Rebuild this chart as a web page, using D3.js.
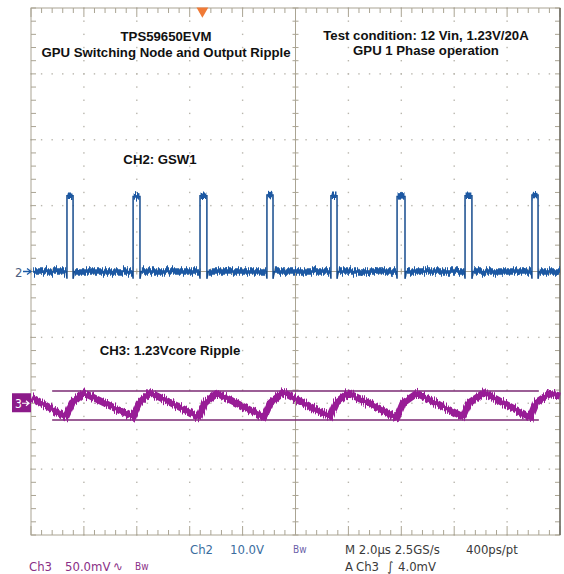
<!DOCTYPE html>
<html>
<head>
<meta charset="utf-8">
<script src="https://cdn.jsdelivr.net/npm/d3@7/dist/d3.min.js"></script>
<style>
body { margin: 0; background: #fff; }
</style>
</head>
<body>
<script>
//time base 2.0us/div, 10 divisions, 0 at screen centre
var timeDomain = [-10, 10];
var majorTimes = [-8, -6, -4, -2, 2, 4, 6, 8];
var majorDivs = [-3, -2, -1, 1, 2, 3];

//Ch2 switching node, volts (10 V/div, ground at centre)
var ch2Rise = [-8.64, -6.14, -3.61, -1.08, 1.34, 3.84, 6.41, 8.94];
var ch2Fall = [-8.41, -5.88, -3.35, -0.85, 1.57, 4.14, 6.67, 9.17];
var ch2High = [11.5, 11.4, 11.5, 11.6, 11.5, 11.4, 11.5, 11.6];
var ch2Low = 0;
var ch2Dip = -1.1;

//Ch3 output ripple, mV (50 mV/div, ground marker 2 div below centre)
var ch3Trough = [-8.68, -6.14, -3.65, -1.19, 1.30, 3.84, 6.33, 8.87];
var ch3TroughV = [-10.4, -10.6, -10.2, -10.6, -10.4, -10.8, -10.4, -10.6];
var ch3Knee = [-8.45, -5.92, -3.42, -0.96, 1.53, 4.06, 6.56, 9.09];
var ch3KneeV = [0.2, 0.0, 0.4, 0.0, 0.2, 0.0, 0.2, 0.4];
var ch3Peak = [-8.00, -5.50, -2.97, -0.47, 1.98, 4.59, 7.13, 9.62];
var ch3PeakV = [7.8, 8.0, 7.6, 8.2, 7.8, 7.6, 8.0, 7.4];
var ch3Ends = [[-9.98, 4.6], [10, 5.4]];
var ch3Cursors = [9.3, -12.7];
var cursorSpan = [-9.2, 9.2];

//annotation texts
var titleLeft = ["TPS59650EVM", "GPU Switching Node and Output Ripple"];
var titleRight = ["Test condition: 12 Vin, 1.23V/20A", "GPU 1 Phase operation"];
var ch2Label = "CH2: GSW1";
var ch3Label = "CH3: 1.23Vcore Ripple";

window.onload = drawScope();

function drawScope(){

    var width = 564,
        height = 574;

    var svg = d3.select("body")
        .append("svg")
        .attr("width", width)
        .attr("height", height);

    //screen scales: time -> x, divisions -> y
    var x = d3.scaleLinear().domain(timeDomain).range([31, 560]);
    var yDiv = d3.scaleLinear().domain([-4, 4]).range([535, 8]);
    var y2 = function(v){ return yDiv(v / 10); };
    var y3 = function(mv){ return yDiv(mv / 50 - 2); };

    //noise filter: shifts each column of a trace up/down
    var defs = svg.append("defs");
    var filt = defs.append("filter")
        .attr("id", "jag")
        .attr("filterUnits", "userSpaceOnUse")
        .attr("x", 0).attr("y", 0)
        .attr("width", width).attr("height", height);
    filt.append("feTurbulence")
        .attr("type", "fractalNoise")
        .attr("baseFrequency", "0.9 0.01")
        .attr("numOctaves", 2)
        .attr("seed", 4)
        .attr("result", "n");
    filt.append("feColorMatrix")
        .attr("in", "n")
        .attr("type", "matrix")
        .attr("values", "0 0 0 0 0.5  0 1 0 0 0  0 0 0 0 0  0 0 0 0 1")
        .attr("result", "m");
    filt.append("feDisplacementMap")
        .attr("in", "SourceGraphic")
        .attr("in2", "m")
        .attr("scale", 10)
        .attr("xChannelSelector", "R")
        .attr("yChannelSelector", "G");

    //graticule
    var grid = svg.append("g").attr("class", "grid");
    var minorT = d3.range(-10, 10.001, 0.4);
    var minorD = d3.range(-4, 4.001, 0.2);

    majorTimes.forEach(function(t){
        grid.selectAll(null)
            .data(minorD)
            .enter()
            .append("rect")
            .attr("x", x(t) - 0.7)
            .attr("y", function(d){ return yDiv(d) - 0.7; })
            .attr("width", 1.4)
            .attr("height", 1.4)
            .attr("fill", "#b9b6ad");
    });
    majorDivs.forEach(function(dv){
        grid.selectAll(null)
            .data(minorT)
            .enter()
            .append("rect")
            .attr("x", function(d){ return x(d) - 0.7; })
            .attr("y", yDiv(dv) - 0.7)
            .attr("width", 1.4)
            .attr("height", 1.4)
            .attr("fill", "#b9b6ad");
    });

    var lineCol = "#aaa493";

    //centre cross hair with ticks
    grid.append("line")
        .attr("x1", x(0)).attr("x2", x(0))
        .attr("y1", yDiv(4)).attr("y2", yDiv(-4))
        .attr("stroke", lineCol);
    grid.append("line")
        .attr("x1", x(-10)).attr("x2", x(10))
        .attr("y1", yDiv(0)).attr("y2", yDiv(0))
        .attr("stroke", lineCol);
    grid.selectAll(".vtick")
        .data(minorD)
        .enter()
        .append("line")
        .attr("class", "vtick")
        .attr("x1", x(0) - 3).attr("x2", x(0) + 3)
        .attr("y1", function(d){ return yDiv(d); })
        .attr("y2", function(d){ return yDiv(d); })
        .attr("stroke", lineCol);
    grid.selectAll(".htick")
        .data(minorT)
        .enter()
        .append("line")
        .attr("class", "htick")
        .attr("y1", yDiv(0) - 3).attr("y2", yDiv(0) + 3)
        .attr("x1", function(d){ return x(d); })
        .attr("x2", function(d){ return x(d); })
        .attr("stroke", lineCol);

    //edge ticks pointing inwards
    grid.selectAll(".ttick")
        .data(minorT)
        .enter()
        .append("line")
        .attr("class", "ttick")
        .attr("x1", function(d){ return x(d); })
        .attr("x2", function(d){ return x(d); })
        .attr("y1", yDiv(4))
        .attr("y2", function(d){ return yDiv(4) + (Math.abs(d % 2) < 0.01 ? 9 : 5); })
        .attr("stroke", lineCol);
    grid.selectAll(".btick")
        .data(minorT)
        .enter()
        .append("line")
        .attr("class", "btick")
        .attr("x1", function(d){ return x(d); })
        .attr("x2", function(d){ return x(d); })
        .attr("y1", yDiv(-4))
        .attr("y2", function(d){ return yDiv(-4) - (Math.abs(d % 2) < 0.01 ? 9 : 5); })
        .attr("stroke", lineCol);
    grid.selectAll(".ltick")
        .data(minorD)
        .enter()
        .append("line")
        .attr("class", "ltick")
        .attr("x1", x(-10)).attr("x2", x(-10) + 5)
        .attr("y1", function(d){ return yDiv(d); })
        .attr("y2", function(d){ return yDiv(d); })
        .attr("stroke", lineCol);
    grid.selectAll(".rtick")
        .data(minorD)
        .enter()
        .append("line")
        .attr("class", "rtick")
        .attr("x1", x(10)).attr("x2", x(10) - 5)
        .attr("y1", function(d){ return yDiv(d); })
        .attr("y2", function(d){ return yDiv(d); })
        .attr("stroke", lineCol);

    grid.append("rect")
        .attr("x", x(-10)).attr("y", yDiv(4))
        .attr("width", x(10) - x(-10))
        .attr("height", yDiv(-4) - yDiv(4))
        .attr("fill", "none")
        .attr("stroke", lineCol);
    grid.append("line")
        .attr("x1", x(10)).attr("x2", x(10))
        .attr("y1", yDiv(4)).attr("y2", yDiv(-4))
        .attr("stroke", "#6d6a60")
        .attr("stroke-width", 1.5);

    //trigger position marker
    svg.append("path")
        .attr("d", d3.symbol().type(d3.symbolTriangle).size(60))
        .attr("transform", "translate(" + x(-3.52) + "," + (yDiv(4) + 3) + ") rotate(180)")
        .attr("fill", "#f07a36");

    //Ch3 cursor lines
    svg.selectAll(".cursor")
        .data(ch3Cursors)
        .enter()
        .append("line")
        .attr("class", "cursor")
        .attr("x1", x(cursorSpan[0])).attr("x2", x(cursorSpan[1]))
        .attr("y1", function(d){ return y3(d); })
        .attr("y2", function(d){ return y3(d); })
        .attr("stroke", "#7b2a73")
        .attr("stroke-width", 1.6);

    //Ch2 trace: thin edges then thick noisy levels
    var ch2Pts = [[-9.92, ch2Low]];
    var ch2Segs = [];
    var lastT = -9.92;
    ch2Rise.forEach(function(r, i){
        var f = ch2Fall[i];
        ch2Pts.push([r - 0.03, ch2Low], [r, ch2Dip], [r, ch2High[i]],
            [f, ch2High[i]], [f, ch2Dip], [f + 0.05, ch2Low]);
        ch2Segs.push([[lastT, ch2Low], [r - 0.03, ch2Low]]);
        ch2Segs.push([[r + 0.02, ch2High[i]], [f - 0.02, ch2High[i]]]);
        lastT = f + 0.07;
    });
    ch2Pts.push([10, ch2Low]);
    ch2Segs.push([[lastT, ch2Low], [10, ch2Low]]);

    var line2 = d3.line()
        .x(function(d){ return x(d[0]); })
        .y(function(d){ return y2(d[1]); });

    svg.append("path")
        .datum(ch2Pts)
        .attr("d", line2)
        .attr("fill", "none")
        .attr("stroke", "#174c8e")
        .attr("stroke-width", 1.5);

    svg.append("g")
        .attr("filter", "url(#jag)")
        .selectAll("path")
        .data(ch2Segs)
        .enter()
        .append("path")
        .attr("d", line2)
        .attr("fill", "none")
        .attr("stroke", "#1a58a3")
        .attr("stroke-width", 6.5);

    //Ch3 trace
    var ch3Pts = [ch3Ends[0]];
    ch3Trough.forEach(function(t, i){
        ch3Pts.push([t, ch3TroughV[i]], [ch3Knee[i], ch3KneeV[i]], [ch3Peak[i], ch3PeakV[i]]);
    });
    ch3Pts.push(ch3Ends[1]);

    var line3 = d3.line()
        .x(function(d){ return x(d[0]); })
        .y(function(d){ return y3(d[1]); });

    svg.append("g")
        .attr("filter", "url(#jag)")
        .append("path")
        .datum(ch3Pts)
        .attr("d", line3)
        .attr("fill", "none")
        .attr("stroke", "#981c96")
        .attr("stroke-width", 7)
        .attr("stroke-linejoin", "round");

    //channel ground markers
    svg.append("text")
        .attr("x", 15).attr("y", y2(0) + 5)
        .attr("font-family", "Liberation Sans Narrow, DejaVu Sans Condensed, sans-serif")
        .attr("font-size", 13)
        .attr("fill", "#4d5f7f")
        .text("2");
    svg.append("line")
        .attr("x1", 23).attr("x2", 31)
        .attr("y1", y2(0)).attr("y2", y2(0))
        .attr("stroke", "#1b5aa6")
        .attr("stroke-width", 1.5);
    svg.append("path")
        .attr("d", "M27," + (y2(0) - 3) + "L31," + y2(0) + "L27," + (y2(0) + 3))
        .attr("fill", "none")
        .attr("stroke", "#1b5aa6")
        .attr("stroke-width", 1.3);

    svg.append("rect")
        .attr("x", 12).attr("y", y3(0) - 10)
        .attr("width", 19).attr("height", 19)
        .attr("fill", "#8c1b8a");
    svg.append("text")
        .attr("x", 15).attr("y", y3(0) + 4.5)
        .attr("font-family", "Liberation Sans Narrow, DejaVu Sans Condensed, sans-serif")
        .attr("font-size", 12)
        .attr("fill", "#fff")
        .text("3");
    svg.append("path")
        .attr("d", "M22," + y3(0) + "L29," + y3(0) + "M26," + (y3(0) - 2.5) + "L29," + y3(0) + "L26," + (y3(0) + 2.5))
        .attr("fill", "none")
        .attr("stroke", "#fff")
        .attr("stroke-width", 1.2);

    //annotations
    var ann = svg.append("g")
        .attr("font-family", "Liberation Sans, Arial, sans-serif")
        .attr("font-weight", "bold")
        .attr("font-size", 13.2)
        .attr("fill", "#111")
        .attr("text-anchor", "middle");

    ann.selectAll(".tl")
        .data(titleLeft)
        .enter()
        .append("text")
        .attr("x", 166)
        .attr("y", function(d, i){ return 41 + i * 16; })
        .text(function(d){ return d; });
    ann.selectAll(".tr")
        .data(titleRight)
        .enter()
        .append("text")
        .attr("x", 426)
        .attr("y", function(d, i){ return 40 + i * 15; })
        .text(function(d){ return d; });
    ann.append("text").attr("x", 160).attr("y", 164).text(ch2Label);
    ann.append("text").attr("x", 170).attr("y", 355).text(ch3Label);

    //scope readout
    var readout = [
        {t: "Ch2", x: 190, y: 554, c: "#3b6d9e"},
        {t: "10.0V", x: 230, y: 554, c: "#3b6d9e"},
        {t: "M 2.0\u00b5s 2.5GS/s", x: 345, y: 554, c: "#3a3a3a"},
        {t: "400ps/pt", x: 466, y: 554, c: "#3a3a3a"},
        {t: "Ch3", x: 29, y: 571, c: "#8a2f86"},
        {t: "50.0mV", x: 65, y: 571, c: "#8a2f86"},
        {t: "\u223f", x: 113, y: 571, c: "#8a2f86"},
        {t: "A", x: 345, y: 571, c: "#3a3a3a"},
        {t: "Ch3", x: 356, y: 571, c: "#3a3a3a"},
        {t: "\u222b", x: 387, y: 571, c: "#3a3a3a"},
        {t: "4.0mV", x: 398, y: 571, c: "#3a3a3a"}
    ];
    svg.append("g")
        .attr("font-family", "Liberation Sans Narrow, DejaVu Sans Condensed, sans-serif")
        .attr("font-size", 13)
        .selectAll("text")
        .data(readout)
        .enter()
        .append("text")
        .attr("x", function(d){ return d.x; })
        .attr("y", function(d){ return d.y; })
        .attr("fill", function(d){ return d.c; })
        .text(function(d){ return d.t; });

    //bandwidth limit flags
    svg.selectAll(".bw")
        .data([[293, 553, "#6b5fa8"], [135, 570, "#8a2f86"]])
        .enter()
        .append("text")
        .attr("class", "bw")
        .attr("x", function(d){ return d[0]; })
        .attr("y", function(d){ return d[1]; })
        .attr("font-family", "Liberation Sans Narrow, DejaVu Sans Condensed, sans-serif")
        .attr("font-size", 10)
        .attr("fill", function(d){ return d[2]; })
        .text("Bw");
};
</script>
</body>
</html>
